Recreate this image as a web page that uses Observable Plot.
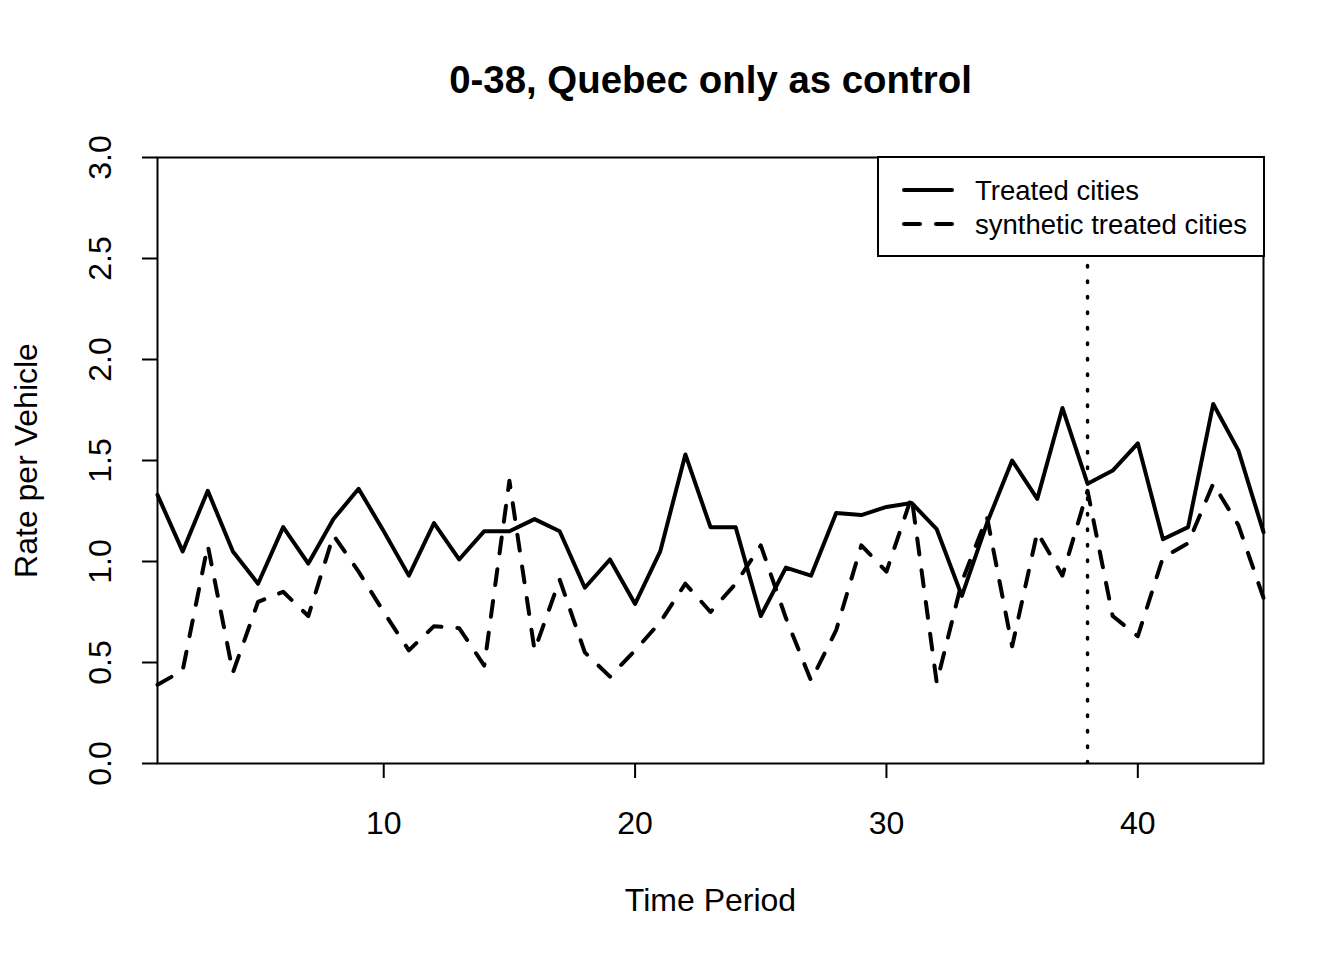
<!DOCTYPE html>
<html>
<head>
<meta charset="utf-8">
<script src="https://cdn.jsdelivr.net/npm/d3@7"></script>
<script src="https://cdn.jsdelivr.net/npm/@observablehq/plot@0.6"></script>
<style>
  html, body { margin: 0; padding: 0; background: #fff; }
  #wrap { position: relative; width: 1344px; height: 960px; font-family: "Liberation Sans", Arial, sans-serif; }
  #legend { position: absolute; left: 877px; top: 156px; }
</style>
</head>
<body>
<div id="wrap"></div>
<script>
const title = "0-38, Quebec only as control";
const xLabel = "Time Period";
const yLabel = "Rate per Vehicle";
const seriesNames = ["Treated cities", "synthetic treated cities"];
const periods = d3.range(1, 46);
const treated = [1.33,1.05,1.35,1.05,0.89,1.17,0.99,1.21,1.36,1.15,0.93,1.19,1.01,1.15,1.15,1.21,1.15,0.87,1.01,0.79,1.05,1.53,1.17,1.17,0.73,0.97,0.93,1.24,1.23,1.27,1.29,1.16,0.83,1.19,1.50,1.31,1.76,1.385,1.45,1.585,1.11,1.17,1.78,1.55,1.145];
const synthetic = [0.39,0.46,1.08,0.45,0.80,0.85,0.73,1.13,0.95,0.75,0.56,0.68,0.67,0.485,1.40,0.56,0.91,0.55,0.43,0.56,0.70,0.89,0.75,0.89,1.08,0.72,0.41,0.66,1.08,0.95,1.32,0.40,0.90,1.22,0.58,1.145,0.93,1.35,0.73,0.63,1.02,1.09,1.385,1.18,0.82];
const treatmentPeriod = 38;
const xTicks = [10, 20, 30, 40];
const yTicks = [0, 0.5, 1, 1.5, 2, 2.5, 3];
const yDomain = [0, 3];

const treatedData = periods.map((t, i) => ({t, v: treated[i]}));
const syntheticData = periods.map((t, i) => ({t, v: synthetic[i]}));

const font = "Liberation Sans, Arial, sans-serif";

const chart = Plot.plot({
  width: 1344,
  height: 960,
  marginLeft: 157,
  marginRight: 81,
  marginTop: 157,
  marginBottom: 197,
  x: {domain: [1, 45]},
  y: {domain: yDomain},
  style: {fontFamily: font, background: "white", color: "black"},
  marks: [
    Plot.ruleX([treatmentPeriod], {y1: yDomain[0], y2: yDomain[1], stroke: "black", strokeWidth: 3.5, strokeDasharray: "1.5,14", strokeLinecap: "round", clip: "frame"}),
    Plot.line(syntheticData, {x: "t", y: "v", stroke: "black", strokeWidth: 4, strokeDasharray: "16,16", strokeLinecap: "round", strokeLinejoin: "round"}),
    Plot.line(treatedData, {x: "t", y: "v", stroke: "black", strokeWidth: 4, strokeLinecap: "round", strokeLinejoin: "round"}),
    Plot.frame({stroke: "black", strokeWidth: 2}),
    Plot.axisX({ticks: xTicks, tickSize: 15, tickFormat: () => "", label: null, strokeWidth: 2}),
    Plot.axisY({ticks: yTicks, tickSize: 15, tickFormat: () => "", label: null, strokeWidth: 2}),
    Plot.text(xTicks, {x: d => d, text: d => String(d), frameAnchor: "bottom", dy: 60, fontSize: 32, lineAnchor: "middle", fill: "black"}),
    Plot.text(yTicks, {y: d => d, text: d => d.toFixed(1), frameAnchor: "left", dx: -57, rotate: -90, fontSize: 32, textAnchor: "middle", lineAnchor: "middle", fill: "black"}),
    Plot.text([title], {frameAnchor: "top", dy: -77, fontSize: 38.4, fontWeight: "bold", lineAnchor: "middle", fill: "black"}),
    Plot.text([xLabel], {frameAnchor: "bottom", dy: 137, fontSize: 32, lineAnchor: "middle", fill: "black"}),
    Plot.text([yLabel], {frameAnchor: "left", dx: -131, rotate: -90, fontSize: 32, textAnchor: "middle", lineAnchor: "middle", fill: "black"})
  ]
});

const wrap = document.getElementById("wrap");
wrap.appendChild(chart);

// Legend (drawn as an overlay box, like R's legend())
const lg = d3.create("svg")
  .attr("id", "legend")
  .attr("width", 388)
  .attr("height", 102)
  .style("font-family", font);
lg.append("rect").attr("x", 1).attr("y", 1).attr("width", 386).attr("height", 99)
  .attr("fill", "white").attr("stroke", "black").attr("stroke-width", 2);
const styles = [{dash: null}, {dash: "16,16"}];
seriesNames.forEach((name, i) => {
  const ly = 34 + i * 34;
  lg.append("line").attr("x1", 27).attr("x2", 75).attr("y1", ly).attr("y2", ly)
    .attr("stroke", "black").attr("stroke-width", 4).attr("stroke-linecap", "round")
    .attr("stroke-dasharray", styles[i].dash);
  lg.append("text").attr("x", 98).attr("y", ly + 10).attr("font-size", 27.5)
    .attr("fill", "black").text(name);
});
wrap.appendChild(lg.node());
</script>
</body>
</html>
